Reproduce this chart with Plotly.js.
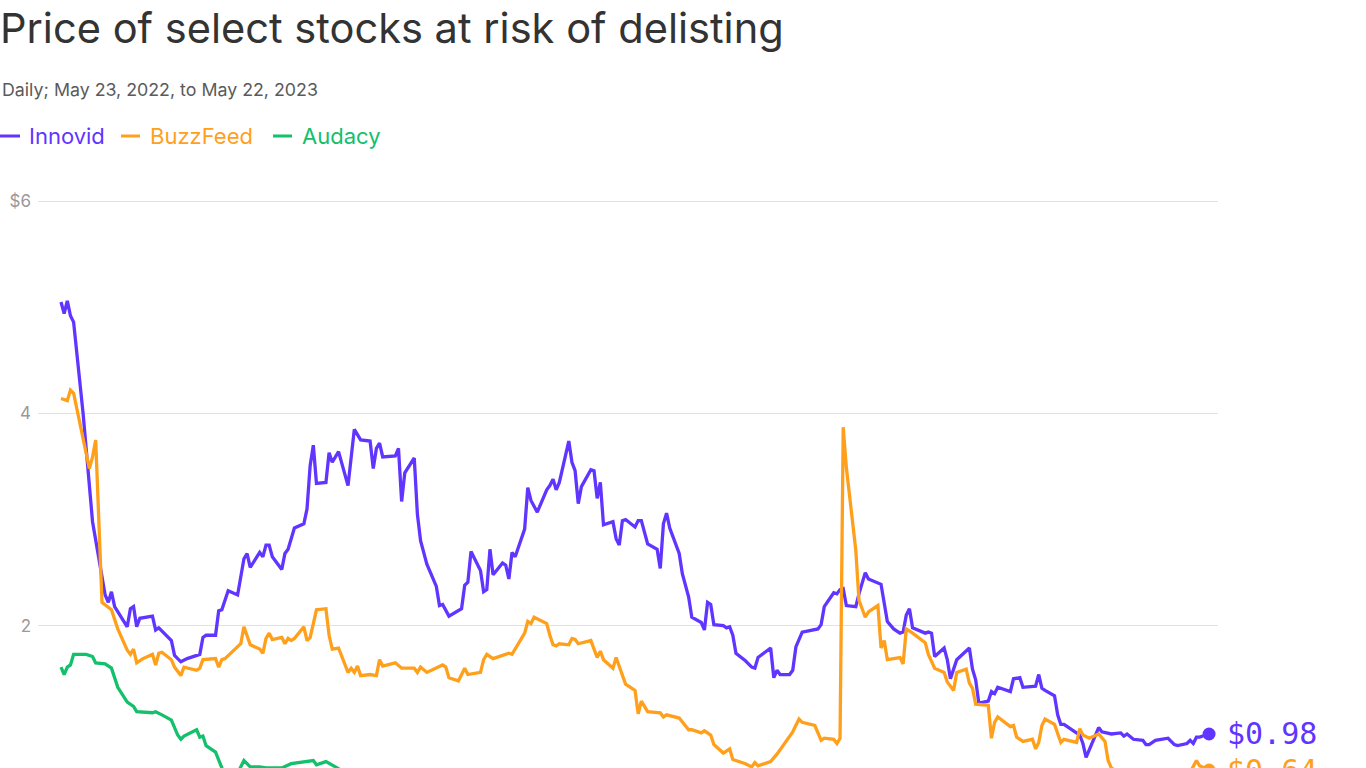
<!DOCTYPE html>
<html>
<head>
<meta charset="utf-8">
<script src="https://cdn.plot.ly/plotly-3.0.1.min.js"></script>
<style>
  html, body { margin: 0; padding: 0; background: #fff; overflow: hidden; }
  #chart { width: 1366px; height: 900px; }
</style>
</head>
<body>
<div id="chart"></div>
<script>
// series data (closing prices)
var innovidDates = [
  '2022-05-23','2022-05-24','2022-05-25','2022-05-26','2022-05-27','2022-05-30',
  '2022-06-02','2022-06-04','2022-06-06','2022-06-07','2022-06-08','2022-06-09','2022-06-13','2022-06-14','2022-06-15','2022-06-16','2022-06-17','2022-06-21','2022-06-22','2022-06-23','2022-06-27','2022-06-28','2022-06-30',
  '2022-07-02','2022-07-06','2022-07-07','2022-07-08','2022-07-11','2022-07-12','2022-07-13','2022-07-15','2022-07-18','2022-07-20','2022-07-21','2022-07-22','2022-07-25','2022-07-26','2022-07-27','2022-07-28','2022-07-29',
  '2022-08-01','2022-08-02','2022-08-03','2022-08-05','2022-08-08','2022-08-09','2022-08-10','2022-08-11','2022-08-12','2022-08-15','2022-08-16','2022-08-17','2022-08-19','2022-08-22','2022-08-24','2022-08-26','2022-08-29','2022-08-30','2022-08-31',
  '2022-09-01','2022-09-02','2022-09-06','2022-09-07','2022-09-08','2022-09-09','2022-09-12','2022-09-13','2022-09-14','2022-09-16','2022-09-19','2022-09-20','2022-09-21','2022-09-23','2022-09-27','2022-09-28','2022-09-29','2022-09-30',
  '2022-10-03','2022-10-04','2022-10-05','2022-10-06','2022-10-07','2022-10-10','2022-10-11','2022-10-12','2022-10-13','2022-10-14','2022-10-17','2022-10-18','2022-10-19','2022-10-21','2022-10-24','2022-10-25','2022-10-26','2022-10-27','2022-10-28','2022-10-31',
  '2022-11-01','2022-11-02','2022-11-03','2022-11-04','2022-11-07','2022-11-08','2022-11-09','2022-11-10','2022-11-11','2022-11-14','2022-11-15','2022-11-16','2022-11-17','2022-11-18','2022-11-21','2022-11-22','2022-11-23','2022-11-25','2022-11-28','2022-11-29','2022-11-30',
  '2022-12-01','2022-12-02','2022-12-05','2022-12-06','2022-12-08','2022-12-09','2022-12-11','2022-12-12','2022-12-13','2022-12-14','2022-12-15','2022-12-16','2022-12-19','2022-12-20','2022-12-21','2022-12-22','2022-12-23','2022-12-26','2022-12-28','2022-12-29','2022-12-30',
  '2023-01-03','2023-01-04','2023-01-05','2023-01-06','2023-01-09','2023-01-10','2023-01-11','2023-01-13','2023-01-18','2023-01-19','2023-01-20','2023-01-23','2023-01-24','2023-01-25','2023-01-26','2023-01-27','2023-01-30','2023-01-31',
  '2023-02-02','2023-02-03','2023-02-07','2023-02-09','2023-02-11','2023-02-13','2023-02-14','2023-02-15','2023-02-16','2023-02-17','2023-02-21','2023-02-22','2023-02-23','2023-02-24','2023-02-27','2023-02-28',
  '2023-03-01','2023-03-03','2023-03-07','2023-03-08','2023-03-09','2023-03-10','2023-03-13','2023-03-14','2023-03-15','2023-03-16','2023-03-20','2023-03-21','2023-03-23','2023-03-24','2023-03-28','2023-03-29','2023-03-30','2023-03-31',
  '2023-04-03','2023-04-04','2023-04-05','2023-04-06','2023-04-09','2023-04-11','2023-04-12','2023-04-13','2023-04-17','2023-04-18','2023-04-21','2023-04-24','2023-04-25','2023-04-26','2023-04-28',
  '2023-05-01','2023-05-02','2023-05-03','2023-05-05','2023-05-09','2023-05-11','2023-05-12','2023-05-15','2023-05-16','2023-05-17','2023-05-18','2023-05-19','2023-05-22'
];
var innovidPrice = [
  5.05,4.94,5.06,4.92,4.86,4.00,
  2.98,2.65,2.29,2.22,2.32,2.18,1.99,2.16,2.18,1.99,2.07,2.09,1.96,1.98,1.86,1.72,1.66,
  1.69,1.73,1.89,1.91,1.91,2.14,2.15,2.33,2.29,2.63,2.68,2.55,2.69,2.65,2.76,2.76,2.65,
  2.53,2.68,2.72,2.92,2.96,3.10,3.51,3.70,3.34,3.35,3.63,3.54,3.64,3.32,3.85,3.75,3.74,3.48,3.67,
  3.72,3.59,3.60,3.67,3.17,3.44,3.58,3.05,2.80,2.58,2.37,2.19,2.20,2.09,2.16,2.38,2.41,2.70,
  2.52,2.32,2.34,2.72,2.48,2.59,2.57,2.44,2.69,2.65,2.91,3.30,3.18,3.07,3.28,3.32,3.38,3.28,3.35,3.74,
  3.54,3.46,3.15,3.31,3.47,3.46,3.20,3.35,2.95,2.98,2.82,2.76,2.99,3.00,2.93,2.99,2.99,2.77,2.72,2.54,2.96,
  3.06,2.92,2.68,2.49,2.27,2.08,2.05,2.03,1.96,2.22,2.20,2.01,2.00,1.98,1.99,1.91,1.74,1.67,1.61,1.60,1.70,
  1.79,1.51,1.58,1.54,1.54,1.58,1.80,1.94,1.97,2.01,2.18,2.31,2.30,2.34,2.35,2.19,2.18,2.30,
  2.50,2.44,2.39,2.04,1.97,1.93,1.94,2.10,2.16,1.98,1.93,1.94,1.93,1.71,1.79,1.68,
  1.50,1.68,1.79,1.59,1.49,1.27,1.29,1.38,1.36,1.42,1.38,1.50,1.51,1.42,1.43,1.54,1.41,1.39,
  1.34,1.16,1.07,1.07,1.01,0.97,0.89,0.76,1.04,1.00,0.98,0.99,0.96,0.98,0.93,
  0.92,0.88,0.88,0.92,0.94,0.88,0.87,0.89,0.92,0.89,0.95,0.95,0.98
];

var buzzfeedDates = [
  '2022-05-23','2022-05-25','2022-05-26','2022-05-27',
  '2022-06-01','2022-06-02','2022-06-03','2022-06-04','2022-06-05','2022-06-08','2022-06-10','2022-06-13','2022-06-14','2022-06-15','2022-06-16','2022-06-18','2022-06-21','2022-06-22','2022-06-23','2022-06-24','2022-06-27','2022-06-28','2022-06-30',
  '2022-07-01','2022-07-05','2022-07-06','2022-07-07','2022-07-11','2022-07-12','2022-07-13','2022-07-14','2022-07-19','2022-07-20','2022-07-22','2022-07-25','2022-07-26','2022-07-27','2022-07-28','2022-07-29',
  '2022-08-01','2022-08-02','2022-08-03','2022-08-04','2022-08-05','2022-08-08','2022-08-09','2022-08-10','2022-08-12','2022-08-15','2022-08-16','2022-08-17','2022-08-19','2022-08-22','2022-08-23','2022-08-24','2022-08-25','2022-08-26','2022-08-29','2022-08-31',
  '2022-09-01','2022-09-02','2022-09-06','2022-09-08','2022-09-12','2022-09-13','2022-09-14','2022-09-16','2022-09-21','2022-09-22','2022-09-23','2022-09-26','2022-09-28','2022-09-29',
  '2022-10-03','2022-10-04','2022-10-05','2022-10-07','2022-10-10','2022-10-12','2022-10-13','2022-10-17','2022-10-18','2022-10-19','2022-10-20','2022-10-24','2022-10-25','2022-10-26','2022-10-27','2022-10-28','2022-10-31',
  '2022-11-01','2022-11-02','2022-11-03','2022-11-07','2022-11-09','2022-11-10','2022-11-11','2022-11-14','2022-11-15','2022-11-18','2022-11-21','2022-11-22','2022-11-23','2022-11-25','2022-11-29','2022-11-30',
  '2022-12-01','2022-12-05','2022-12-07','2022-12-08','2022-12-09','2022-12-12','2022-12-13','2022-12-15','2022-12-16','2022-12-19','2022-12-21','2022-12-22','2022-12-26','2022-12-28','2022-12-29','2022-12-30',
  '2023-01-03','2023-01-05','2023-01-10','2023-01-12','2023-01-13','2023-01-17','2023-01-19','2023-01-20','2023-01-23','2023-01-24','2023-01-25','2023-01-26','2023-01-27','2023-01-30','2023-01-31',
  '2023-02-02','2023-02-03','2023-02-06','2023-02-07','2023-02-08','2023-02-09','2023-02-13','2023-02-14','2023-02-15','2023-02-17','2023-02-21','2023-02-22','2023-02-24','2023-02-27','2023-02-28',
  '2023-03-02','2023-03-03','2023-03-06','2023-03-07','2023-03-08','2023-03-09','2023-03-13','2023-03-14','2023-03-15','2023-03-16','2023-03-20','2023-03-21','2023-03-22','2023-03-24','2023-03-27','2023-03-28','2023-03-29','2023-03-30','2023-03-31',
  '2023-04-03','2023-04-05','2023-04-06','2023-04-10','2023-04-11','2023-04-12','2023-04-14','2023-04-17','2023-04-19','2023-04-20','2023-04-21','2023-04-24','2023-04-28',
  '2023-05-03','2023-05-08','2023-05-12','2023-05-16','2023-05-18','2023-05-19','2023-05-22'
];
var buzzfeedPrice = [
  4.14,4.12,4.22,4.19,
  3.48,3.59,3.75,2.99,2.22,2.15,1.97,1.77,1.73,1.78,1.65,1.69,1.73,1.63,1.74,1.75,1.68,1.61,1.53,
  1.61,1.58,1.60,1.68,1.69,1.61,1.68,1.69,1.83,1.99,1.82,1.78,1.74,1.88,1.93,1.87,
  1.89,1.83,1.88,1.86,1.88,1.99,1.86,1.89,2.15,2.16,1.91,1.78,1.79,1.56,1.60,1.56,1.62,1.53,1.54,1.53,
  1.68,1.62,1.65,1.60,1.60,1.56,1.61,1.56,1.63,1.61,1.51,1.48,1.60,1.54,
  1.56,1.68,1.73,1.69,1.72,1.74,1.73,1.93,2.04,2.02,2.08,2.02,1.91,1.82,1.81,1.83,1.82,
  1.88,1.87,1.83,1.86,1.70,1.76,1.68,1.60,1.70,1.45,1.39,1.17,1.29,1.19,1.18,1.14,
  1.16,1.13,1.05,1.02,1.02,0.99,1.01,0.97,0.88,0.80,0.84,0.74,0.70,0.67,0.71,0.68,
  0.72,0.79,1.00,1.12,1.09,1.06,0.92,0.94,0.93,0.89,0.94,3.87,3.49,2.71,2.24,
  2.08,2.13,2.19,1.79,1.86,1.68,1.70,1.64,1.97,1.93,1.84,1.73,1.60,1.56,1.47,
  1.39,1.56,1.59,1.46,1.41,1.26,1.25,0.94,1.09,1.14,1.05,1.06,0.95,0.91,0.93,0.84,0.90,1.06,1.12,
  1.07,0.90,0.93,0.90,1.03,0.97,0.94,0.98,0.91,0.73,0.66,0.60,0.58,
  0.55,0.57,0.60,0.62,0.73,0.68,0.64
];

var audacyDates = [
  '2022-05-23','2022-05-24','2022-05-25','2022-05-26','2022-05-27','2022-05-31',
  '2022-06-02','2022-06-03','2022-06-06','2022-06-07','2022-06-08','2022-06-10','2022-06-13','2022-06-15','2022-06-16','2022-06-21','2022-06-22','2022-06-24','2022-06-27','2022-06-29','2022-06-30',
  '2022-07-01','2022-07-05','2022-07-06','2022-07-07','2022-07-08','2022-07-11','2022-07-13','2022-07-15','2022-07-18','2022-07-19','2022-07-20','2022-07-22','2022-07-25','2022-07-27',
  '2022-08-01','2022-08-04','2022-08-11','2022-08-12','2022-08-15','2022-08-18','2022-08-25',
  '2022-09-09','2022-09-23','2022-10-14','2022-10-31','2022-11-15','2022-11-30','2022-12-15','2022-12-30',
  '2023-01-16','2023-01-31','2023-02-15','2023-02-28','2023-03-15','2023-03-31','2023-04-14','2023-04-28','2023-05-12','2023-05-22'
];
var audacyPrice = [
  1.61,1.54,1.61,1.63,1.73,1.73,
  1.71,1.65,1.64,1.62,1.60,1.42,1.28,1.24,1.19,1.18,1.19,1.16,1.11,0.97,0.93,
  0.96,1.02,0.95,0.96,0.87,0.81,0.66,0.58,0.61,0.67,0.73,0.67,0.67,0.66,
  0.66,0.70,0.73,0.69,0.72,0.67,0.55,
  0.45,0.38,0.33,0.30,0.31,0.27,0.22,0.20,
  0.24,0.26,0.22,0.18,0.14,0.12,0.10,0.09,0.08,0.07
];

var seriesNames = ['Innovid', 'BuzzFeed', 'Audacy'];
var seriesColors = ['#6035ff', '#ffa01c', '#13c06b'];
var showEndLabel = [true, true, false];
var yTickVals = [2, 4, 6];
var yTickText = ['2', '4', '$6'];
var titleText = 'Price of select stocks at risk of delisting';
var subtitleText = 'Daily; May 23, 2022, to May 22, 2023';

// plot area in page pixels (reference layout)
var W = 1366, H = 900;
var M = { l: 38, r: 148, t: 199, b: 62 };
var plotW = W - M.l - M.r, plotH = H - M.t - M.b;
function pxX(x) { return (x - M.l) / plotW; }
function pxY(y) { return 1 - (y - M.t) / plotH; }

var allDates = [innovidDates, buzzfeedDates, audacyDates];
var allPrices = [innovidPrice, buzzfeedPrice, audacyPrice];

var traces = [];
var annotations = [];
for (var i = 0; i < seriesNames.length; i++) {
    traces.push({
        x: allDates[i],
        y: allPrices[i],
        type: 'scatter',
        mode: 'lines',
        name: seriesNames[i],
        line: { color: seriesColors[i], width: 3.3, shape: 'linear' },
        hoverinfo: 'x+y'
    });
    var n = allDates[i].length - 1;
    // end dot
    traces.push({
        x: [allDates[i][n]],
        y: [allPrices[i][n]],
        type: 'scatter',
        mode: 'markers',
        marker: { color: seriesColors[i], size: 13 },
        hoverinfo: 'skip',
        showlegend: false
    });
    // end label
    if (showEndLabel[i]) {
        annotations.push({
            x: allDates[i][n], xref: 'x',
            y: allPrices[i][n], yref: 'y',
            text: '$' + allPrices[i][n].toFixed(2),
            showarrow: false,
            xanchor: 'left', yanchor: 'middle',
            xshift: 16,
            font: { family: 'DejaVu Sans Mono', size: 30, color: seriesColors[i] }
        });
    }
}

// subtitle
annotations.push({
    text: subtitleText,
    xref: 'paper', yref: 'paper',
    x: pxX(0), y: pxY(90),
    xanchor: 'left', yanchor: 'middle',
    showarrow: false,
    font: { family: 'Inter', size: 17.8, color: '#5a5a5a' }
});

// legend: short dash + coloured name
var legendDash = [[0, 20], [121, 140], [273, 292]];
var legendTextX = [27, 148, 300];
var shapes = [];
for (var k = 0; k < seriesNames.length; k++) {
    shapes.push({
        type: 'line', xref: 'paper', yref: 'paper',
        x0: pxX(legendDash[k][0]), x1: pxX(legendDash[k][1]),
        y0: pxY(136), y1: pxY(136),
        line: { color: seriesColors[k], width: 3 }
    });
    annotations.push({
        text: seriesNames[k],
        xref: 'paper', yref: 'paper',
        x: pxX(legendTextX[k]), y: pxY(136),
        xanchor: 'left', yanchor: 'middle',
        showarrow: false,
        font: { family: 'Inter', size: 22, color: seriesColors[k] }
    });
}

var layout = {
    width: W,
    height: H,
    margin: M,
    paper_bgcolor: '#ffffff',
    plot_bgcolor: '#ffffff',
    showlegend: false,
    title: {
        text: titleText,
        x: 0, xref: 'container', xanchor: 'left',
        y: 1 - 28 / H, yref: 'container', yanchor: 'middle',
        pad: { l: 0, t: 0, b: 0, r: 0 },
        font: { family: 'Inter', size: 41.6, color: '#333333' }
    },
    xaxis: {
        type: 'date',
        range: ['2022-05-15 17:00', '2023-05-24 20:00'],
        showgrid: false,
        zeroline: false,
        showline: false,
        ticks: '',
        showticklabels: false
    },
    yaxis: {
        range: [0, 6.02],
        tickvals: yTickVals,
        ticktext: yTickText,
        showgrid: true,
        gridcolor: '#e2e2e2',
        gridwidth: 1,
        zeroline: false,
        showline: false,
        ticks: '',
        ticklabelstandoff: 6,
        tickfont: { family: 'Inter', size: 17, color: '#999999' }
    },
    shapes: shapes,
    annotations: annotations
};

Plotly.newPlot('chart', traces, layout, { displayModeBar: false, staticPlot: true });
</script>
</body>
</html>
